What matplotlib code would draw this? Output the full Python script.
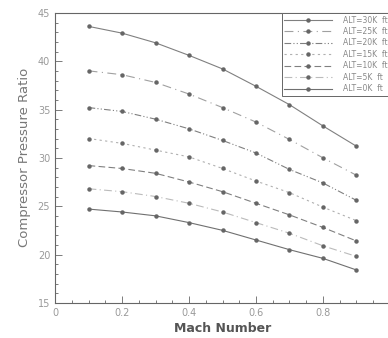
import numpy as np
import matplotlib
matplotlib.use("Agg")
import matplotlib.pyplot as plt
from matplotlib.ticker import MultipleLocator

mach = [0.1, 0.2, 0.3, 0.4, 0.5, 0.6, 0.7, 0.8, 0.9]

alt30 = [43.6, 42.9, 41.9, 40.6, 39.2, 37.4, 35.5, 33.3, 31.2]
alt25 = [39.0, 38.6, 37.8, 36.6, 35.2, 33.7, 31.9, 30.0, 28.2]
alt20 = [35.2, 34.8, 34.0, 33.0, 31.8, 30.5, 28.8, 27.4, 25.6]
alt15 = [32.0, 31.5, 30.8, 30.1, 28.9, 27.6, 26.4, 24.9, 23.5]
alt10 = [29.2, 28.9, 28.4, 27.5, 26.5, 25.3, 24.1, 22.8, 21.4]
alt5 = [26.8, 26.5, 26.0, 25.3, 24.4, 23.3, 22.2, 20.9, 19.8]
alt0 = [24.7, 24.4, 24.0, 23.3, 22.5, 21.5, 20.5, 19.6, 18.4]

labels = ["ALT=30K  ft", "ALT=25K  ft", "ALT=20K  ft", "ALT=15K  ft",
          "ALT=10K  ft", "ALT=5K  ft", "ALT=0K  ft"]
series = [alt30, alt25, alt20, alt15, alt10, alt5, alt0]
styles = ["-", (0, (8, 4, 1, 4)), (0, (6, 2, 1, 2, 1, 2)), (0, (2, 3)),
          (0, (6, 3)), (0, (7, 3, 1, 3)), "-"]
greys = ["#808080", "#a0a0a0", "#808080", "#b0b0b0", "#808080", "#bbbbbb", "#707070"]

fig = plt.figure(figsize=(3.88, 3.38), dpi=100)
ax = fig.add_axes([0.142, 0.104, 0.863, 0.858])

for y, lab, ls, c in zip(series, labels, styles, greys):
    ax.plot(mach, y, linestyle=ls, color=c, lw=0.8, marker="o", ms=2.2,
            mfc="#666666", mec="#666666", label=lab)

ax.set_xlim(0, 1)
ax.set_ylim(15, 45)
ax.xaxis.set_minor_locator(MultipleLocator(0.05))
ax.yaxis.set_major_locator(MultipleLocator(5))
ax.yaxis.set_minor_locator(MultipleLocator(1))
ax.set_xticks([0, 0.2, 0.4, 0.6, 0.8])
ax.set_xticklabels(["0", "0.2", "0.4", "0.6", "0.8"])
ax.tick_params(which="both", direction="in", colors="#666666", labelcolor="#999999",
               labelsize=7, width=0.6)
ax.tick_params(which="major", length=5)
ax.tick_params(which="minor", length=2.5)
for s in ax.spines.values():
    s.set_color("#666666")
    s.set_linewidth(0.8)

ax.set_xlabel("Mach Number", fontsize=9, fontweight="bold", color="#555555", labelpad=3)
ax.set_ylabel("Compressor Pressure Ratio", fontsize=9.5, color="#777777", labelpad=5)

leg = ax.legend(loc="upper right", bbox_to_anchor=(1.0, 1.0), borderaxespad=0,
                fontsize=5.5, fancybox=False, framealpha=1, edgecolor="#666666",
                handlelength=6.2, labelspacing=0.32, markerscale=1.0,
                borderpad=0.35, handletextpad=1.4)
leg.get_frame().set_linewidth(0.7)
for t in leg.get_texts():
    t.set_color("#888888")

fig.savefig("out.png", dpi=100)
